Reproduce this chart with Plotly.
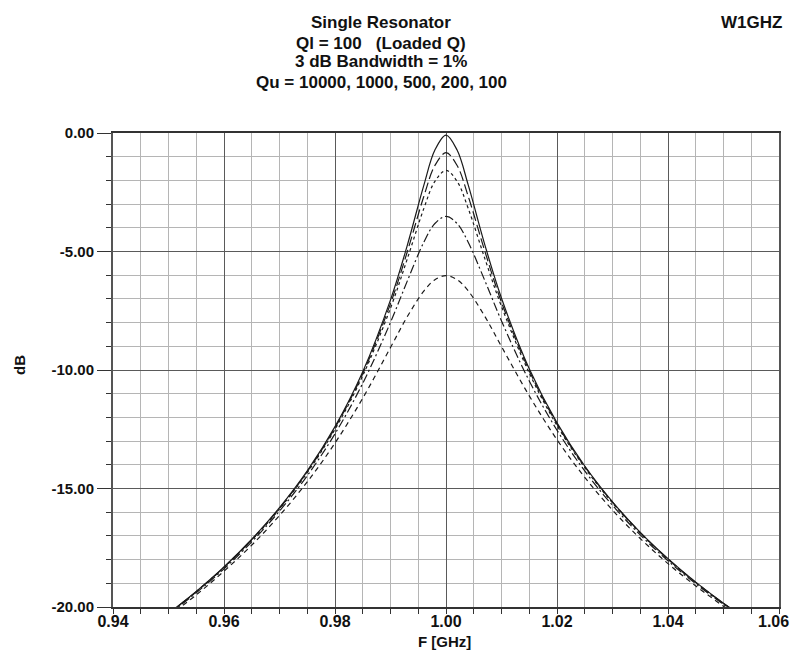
import plotly.graph_objects as go

freq = [0.950, 0.955, 0.960, 0.965, 0.970, 0.975, 0.980, 0.985, 0.990, 0.993, 0.996, 0.998,
        1.000, 1.002, 1.004, 1.007, 1.010, 1.015, 1.020, 1.025, 1.030, 1.035, 1.040, 1.045,
        1.050, 1.052]

qu_labels = ["Qu = 10000", "Qu = 1000", "Qu = 500", "Qu = 200", "Qu = 100"]

db_qu10000 = [-20.27, -19.34, -18.31, -17.14, -15.81, -14.26, -12.39, -10.07, -7.04, -4.76, -2.21, -0.72,
              -0.09, -0.72, -2.19, -4.72, -6.97, -9.95, -12.23, -14.05, -15.56, -16.85, -17.96, -18.95,
              -19.84, -20.17]
db_qu1000 = [-20.28, -19.35, -18.32, -17.16, -15.84, -14.29, -12.44, -10.15, -7.20, -5.03, -2.68, -1.37,
             -0.83, -1.37, -2.67, -4.99, -7.14, -10.03, -12.28, -14.08, -15.58, -16.86, -17.98, -18.96,
             -19.85, -20.17]
db_qu500 = [-20.28, -19.36, -18.33, -17.18, -15.86, -14.33, -12.50, -10.24, -7.39, -5.33, -3.19, -2.04,
            -1.58, -2.04, -3.18, -5.30, -7.32, -10.13, -12.34, -14.12, -15.61, -16.88, -17.99, -18.98,
            -19.86, -20.18]
db_qu200 = [-20.32, -19.40, -18.39, -17.25, -15.95, -14.46, -12.69, -10.56, -7.99, -6.26, -4.61, -3.82,
            -3.52, -3.82, -4.61, -6.23, -7.93, -10.46, -12.54, -14.26, -15.71, -16.96, -18.05, -19.02,
            -19.89, -20.22]
db_qu100 = [-20.39, -19.49, -18.49, -17.39, -16.14, -14.72, -13.08, -11.19, -9.05, -7.76, -6.67, -6.19,
            -6.02, -6.19, -6.66, -7.74, -9.01, -11.09, -12.94, -14.53, -15.91, -17.11, -18.17, -19.11,
            -19.97, -20.29]

series = [db_qu10000, db_qu1000, db_qu500, db_qu200, db_qu100]
dashes = ["solid", "10px,4px", "3px,3px", "9px,3px,2px,3px", "5px,4px"]

title_lines = ["Single Resonator", "Ql = 100   (Loaded Q)", "3 dB Bandwidth = 1%",
               "Qu = 10000, 1000, 500, 200, 100"]

x_ticks = [0.94, 0.96, 0.98, 1.00, 1.02, 1.04, 1.06]
y_ticks = [0, -5, -10, -15, -20]

fig = go.Figure()
for name, vals, dash in zip(qu_labels, series, dashes):
    fig.add_trace(go.Scatter(x=freq, y=vals, mode="lines", name=name,
                             line=dict(color="#1a1a1a", width=1.2, dash=dash, shape="spline"),
                             showlegend=False))

FONT = "Liberation Sans, Arial, sans-serif"
fig.update_layout(
    width=791, height=651,
    margin=dict(l=113, r=12, t=133, b=44, autoexpand=False),
    paper_bgcolor="white", plot_bgcolor="white",
    font=dict(family=FONT, size=15, color="#111"),
)
# last x tick label is drawn as an annotation so it stays inside the page
x_ticktext = [f"<b>{v:.2f}</b>" for v in x_ticks[:-1]] + [""]
fig.update_xaxes(
    range=[0.94, 1.06], tickvals=x_ticks, ticktext=x_ticktext,
    showgrid=True, gridcolor="#5a5a5a", gridwidth=1.3,
    ticks="outside", ticklen=5, tickcolor="#333", tickwidth=1.3,
    ticklabelstandoff=-6, automargin=False,
    showline=True, linecolor="#333", linewidth=2, mirror=True,
    zeroline=False,
    tickfont=dict(size=16, family=FONT, color="#111"),
    minor=dict(dtick=0.005, showgrid=True, gridcolor="#b5b5b5", gridwidth=1.3,
               ticks="outside", ticklen=5, tickcolor="#333", tickwidth=1.3),
)
fig.update_yaxes(
    range=[-20, 0], tickvals=y_ticks, ticktext=[f"<b>{v:.2f}</b>" for v in y_ticks],
    showgrid=True, gridcolor="#5a5a5a", gridwidth=1.3,
    ticks="outside", ticklen=14, tickcolor="#333", tickwidth=1.3,
    automargin=False,
    showline=True, linecolor="#555", linewidth=2, mirror=True,
    zeroline=False,
    tickfont=dict(size=15, family=FONT, color="#111"),
    minor=dict(dtick=1, showgrid=True, gridcolor="#b5b5b5", gridwidth=1.3,
               ticks="outside", ticklen=5, tickcolor="#333", tickwidth=1.3),
)
fig.add_annotation(text=f"<b>{x_ticks[-1]:.2f}</b>", xref="x", yref="paper",
                   x=x_ticks[-1], y=(607 - 621) / 474, xshift=-6,
                   xanchor="center", yanchor="middle", showarrow=False,
                   font=dict(size=16, family=FONT, color="#111"))

# title lines
title_y_px = [23, 43, 62, 82]
for txt, ypx in zip(title_lines, title_y_px):
    fig.add_annotation(text=f"<b>{txt}</b>", xref="paper", yref="paper",
                       x=(381 - 113) / 666, y=(607 - ypx) / 474,
                       xanchor="center", yanchor="middle", showarrow=False,
                       font=dict(size=17, family=FONT, color="#111"))
fig.add_annotation(text="<b>W1GHZ</b>", xref="paper", yref="paper",
                   x=(751 - 113) / 666, y=(607 - 23) / 474,
                   xanchor="center", yanchor="middle", showarrow=False,
                   font=dict(size=17, family=FONT, color="#111"))
fig.add_annotation(text="<b>F [GHz]</b>", xref="paper", yref="paper",
                   x=(444 - 113) / 666, y=(607 - 641) / 474,
                   xanchor="center", yanchor="middle", showarrow=False,
                   font=dict(size=15, family=FONT, color="#111"))
fig.add_annotation(text="<b>dB</b>", xref="paper", yref="paper",
                   x=(19 - 113) / 666, y=(607 - 365) / 474, textangle=-90,
                   xanchor="center", yanchor="middle", showarrow=False,
                   font=dict(size=15, family=FONT, color="#111"))

fig.write_html("out.html")
